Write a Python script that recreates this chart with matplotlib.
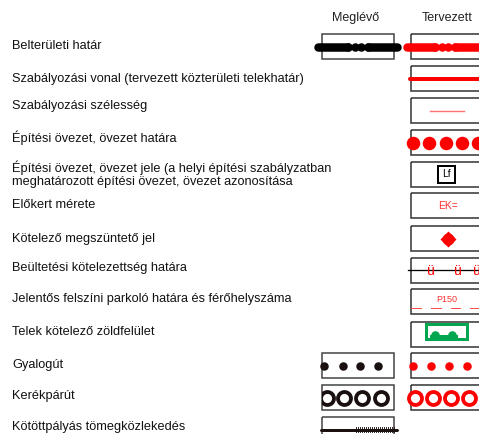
import matplotlib.pyplot as plt
from matplotlib.patches import Rectangle, Circle

plt.rcParams['font.family'] = ['Liberation Sans', 'DejaVu Sans']

# legend rows
labels = ['Belterületi határ',
          'Szabályozási vonal (tervezett közterületi telekhatár)',
          'Szabályozási szélesség',
          'Építési övezet, övezet határa',
          'Építési övezet, övezet jele (a helyi építési szabályzatban\nmeghatározott építési övezet, övezet azonosítása',
          'Előkert mérete',
          'Kötelező megszüntető jel',
          'Beültetési kötelezettség határa',
          'Jelentős felszíni parkoló határa és férőhelyszáma',
          'Telek kötelező zöldfelület',
          'Gyalogút',
          'Kerékpárút',
          'Kötöttpályás tömegközlekedés']
label_y = [46, 79, 106, 138, 174.5, 205, 239, 268, 299, 332, 365, 396, 427]
box_y = [46.5, 78.5, 110.5, 142.5, 174, 205.5, 238.5, 270, 301.5, 334, 365.5, 397.5, 429.5]
has_existing = [1, 0, 0, 0, 0, 0, 0, 0, 0, 0, 1, 1, 1]
has_planned = [1, 1, 1, 1, 1, 1, 1, 1, 1, 1, 1, 1, 0]
columns = ['Meglévő', 'Tervezett']

RED = '#ff0000'
DARK = '#1a1010'
PX = 0.72  # points per pixel at dpi 100

fig = plt.figure(figsize=(4.79, 4.34), dpi=100)
ax = fig.add_axes([0, 0, 1, 1])
ax.set_xlim(0, 479)
ax.set_ylim(434, 0)
ax.axis('off')

ax.text(356, 18, columns[0], ha='center', va='center', fontsize=9, color='#222')
ax.text(447, 18, columns[1], ha='center', va='center', fontsize=9, color='#222')

for lab, y in zip(labels, label_y):
    ax.text(12, y, lab, ha='left', va='center', fontsize=9.2, color='#111', linespacing=1.1)

ex_boxes = {}
pl_boxes = {}
for i, y in enumerate(box_y):
    if has_existing[i]:
        r = Rectangle((322, y - 12.5), 72, 25, fill=False, ec='#444', lw=1.1)
        ax.add_patch(r)
        ex_boxes[i] = r
    if has_planned[i]:
        r = Rectangle((411, y - 12.5), 90, 25, fill=False, ec='#333', lw=1.1)
        ax.add_patch(r)
        pl_boxes[i] = r

def bead_line(x0, b0, b1, x1, y, col):
    ax.plot([x0, b0], [y, y], color=col, lw=8.5 * PX, solid_capstyle='round')
    ax.plot([b1, x1], [y, y], color=col, lw=8.5 * PX, solid_capstyle='round')
    ax.plot([b0, b1], [y, y], color=col, lw=5 * PX)
    xs = [b0 + (b1 - b0) * k / 3 for k in range(4)]
    ax.plot(xs, [y] * 4, 'o', color=col, ms=8.5 * PX, mec='none')

# row 1
bead_line(318, 348, 368, 397, box_y[0], '#000')
bead_line(407, 435, 455, 500, box_y[0], RED)
# row 2
ax.plot([410, 480], [box_y[1], box_y[1]], color=RED, lw=4 * PX, solid_capstyle='round')
# row 3
ax.plot([430, 464], [box_y[2], box_y[2]], color='#ff7070', lw=1.4 * PX)
# row 4
ax.plot([413, 429.5, 446, 462.5, 478], [box_y[3]] * 5, 'o', color=RED, ms=13.5 * PX, mec='none')
# row 5
ax.add_patch(Rectangle((438.5, 165.5), 16.5, 17, fc='white', ec='#000', lw=2 * PX))
ax.text(446.8, box_y[4], 'Lf', ha='center', va='center', fontsize=7.5, color='#000')
# row 6
ax.text(448, box_y[5] + 0.5, 'EK=', ha='center', va='center', fontsize=7.5, color='#ff3030')
# row 7
ax.plot([448], [box_y[6]], 'o', color=RED, ms=12 * PX, mec='none')
ax.plot([448], [box_y[6]], 'D', color=RED, ms=12 * PX, mec='none')
# row 8
ax.plot([408, 480], [box_y[7], box_y[7]], color='#000', lw=1.3 * PX)
for x in [431, 458, 477]:
    ax.text(x, box_y[7] + 1, 'ü', ha='center', va='center', fontsize=10, color=RED)
# row 9
ax.text(447, box_y[8] - 1.5, 'P150', ha='center', va='center', fontsize=6.5, color='#ff3030')
for a, b in [(411, 421), (431, 441), (451, 460), (470, 479)]:
    ax.plot([a, b], [box_y[8] + 6, box_y[8] + 6], color='#ff5050', lw=1 * PX)
# row 10
g = '#00a650'
ax.add_patch(Rectangle((426, 324), 41, 15, fill=False, ec=g, lw=3 * PX))
ax.add_patch(Rectangle((430, 334.5), 28, 4, fc=g, ec='none'))
ax.add_patch(Circle((435.5, 335.5), 4.3, fc=g, ec='none'))
ax.add_patch(Circle((452.5, 335.5), 4.3, fc=g, ec='none'))
# row 11
ax.plot([324, 343, 360.5, 378], [box_y[10]] * 4, 'o', color=DARK, ms=8.5 * PX, mec='none')
ax.plot([413, 431, 449, 467], [box_y[10]] * 4, 'o', color=RED, ms=8.5 * PX, mec='none')
# row 12
ring_b, = ax.plot([327, 344.5, 362.5, 381], [box_y[11]] * 4, 'o', mfc='white', mec=DARK,
                  ms=13 * PX, mew=3.8 * PX)
ring_b.set_clip_path(ex_boxes[11])
ax.plot([415, 433, 451, 469, 487], [box_y[11]] * 5, 'o', mfc='white', mec=RED,
        ms=13 * PX, mew=3.8 * PX)
# row 13
y13 = box_y[12]
ax.plot([321, 397], [y13, y13], color=DARK, lw=3 * PX, solid_capstyle='round')
ticks = [356 + 2 * k for k in range(20)]
for x in ticks:
    ax.plot([x, x], [y13 - 2.5, y13 + 2.5], color=DARK, lw=0.9 * PX)

fig.savefig('out.png', dpi=100)
